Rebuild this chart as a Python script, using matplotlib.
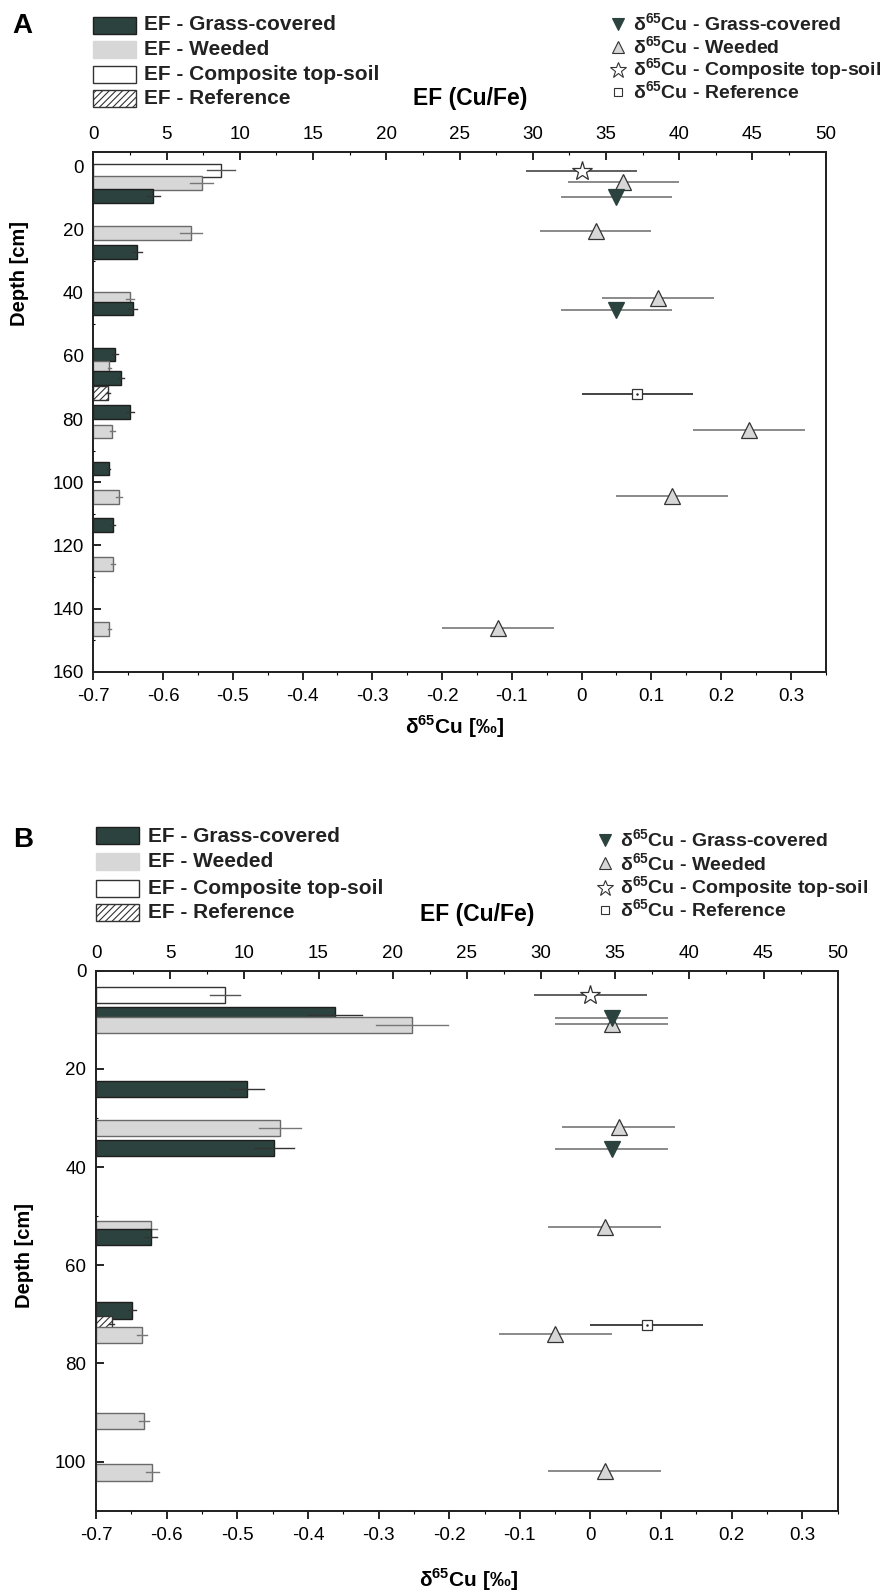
import matplotlib.pyplot as plt
from matplotlib.patches import Rectangle
from matplotlib.lines import Line2D
from matplotlib.ticker import MultipleLocator, FuncFormatter

plt.rcParams['font.family'] = ['Liberation Sans', 'DejaVu Sans']
plt.rcParams['mathtext.fontset'] = 'custom'
plt.rcParams['mathtext.rm'] = 'Liberation Sans'
plt.rcParams['mathtext.bf'] = 'Liberation Sans:bold'
plt.rcParams['hatch.linewidth'] = 0.8

W, H = 890, 1591
DARK = '#2c423e'
GREY = '#d7d7d7'

# --- Panel A: EF (Cu/Fe) bars (depth, value, error) ---
a_ef_grass_depth = [9.3, 27.1, 45.0, 59.5, 66.9, 77.8, 95.7, 113.5]
a_ef_grass = [4.1, 3.0, 2.7, 1.5, 1.9, 2.5, 1.05, 1.35]
a_ef_grass_err = [0.45, 0.35, 0.3, 0.2, 0.2, 0.3, 0.1, 0.15]
a_ef_weed_depth = [5.2, 21.1, 42.0, 63.8, 83.9, 104.7, 125.8, 146.4]
a_ef_weed = [7.4, 6.7, 2.5, 1.1, 1.3, 1.75, 1.35, 1.1]
a_ef_weed_err = [0.8, 0.75, 0.3, 0.1, 0.15, 0.2, 0.15, 0.1]
a_ef_comp_depth = [1.2]
a_ef_comp = [8.7]
a_ef_comp_err = [0.95]
a_ef_ref_depth = [71.8]
a_ef_ref = [1.0]
a_ef_ref_err = [0.15]

# --- Panel A: d65Cu ---
a_cu_grass_depth = [9.5, 45.5]
a_cu_grass = [0.05, 0.05]
a_cu_weed_depth = [5.0, 20.5, 41.6, 83.4, 104.4, 146.1]
a_cu_weed = [0.06, 0.02, 0.11, 0.24, 0.13, -0.12]
a_cu_comp_depth = [1.3]
a_cu_comp = [0.0]
a_cu_ref_depth = [71.9]
a_cu_ref = [0.08]

# --- Panel B: EF (Cu/Fe) bars ---
b_ef_grass_depth = [9.0, 24.1, 36.1, 54.2, 69.2]
b_ef_grass = [16.1, 10.2, 12.0, 3.7, 2.45]
b_ef_grass_err = [1.8, 1.15, 1.35, 0.4, 0.28]
b_ef_weed_depth = [11.1, 32.0, 52.7, 74.2, 91.7, 102.2]
b_ef_weed = [21.3, 12.4, 3.7, 3.1, 3.25, 3.8]
b_ef_weed_err = [2.4, 1.4, 0.4, 0.35, 0.35, 0.45]
b_ef_comp_depth = [5.0]
b_ef_comp = [8.7]
b_ef_comp_err = [1.0]
b_ef_ref_depth = [72.0]
b_ef_ref = [1.05]
b_ef_ref_err = [0.15]

# --- Panel B: d65Cu ---
b_cu_grass_depth = [9.6, 36.4]
b_cu_grass = [0.03, 0.03]
b_cu_weed_depth = [10.9, 31.8, 52.2, 74.0, 102.0]
b_cu_weed = [0.03, 0.04, 0.02, -0.05, 0.02]
b_cu_comp_depth = [5.0]
b_cu_comp = [0.0]
b_cu_ref_depth = [72.2]
b_cu_ref = [0.08]

CU_ERR = 0.08

BAR_STYLE = {
    'grass': dict(facecolor=DARK, edgecolor='#1e1e1e', hatch=None, ecol='#333333'),
    'weed': dict(facecolor=GREY, edgecolor='#6a6a6a', hatch=None, ecol='#777777'),
    'comp': dict(facecolor='white', edgecolor='#333333', hatch=None, ecol='#555555'),
    'ref': dict(facecolor='white', edgecolor='#333333', hatch='/////', ecol='#333333'),
}
MARK_STYLE = {
    'grass': dict(marker='v', ms=11, mfc=DARK, mec=DARK, ecol='#777777'),
    'weed': dict(marker='^', ms=11, mfc=GREY, mec='#333333', ecol='#777777'),
    'comp': dict(marker='*', ms=15, mfc='white', mec='#333333', ecol='#444444'),
    'ref': dict(marker='s', ms=7, mfc='white', mec='#333333', ecol='#222222'),
}


def fx(x):
    return x / W


def fy(y):
    return 1 - y / H


fmt = FuncFormatter(lambda v, p: '%g' % round(v, 2))


def draw_panel(rect, ylim, ymajor, bar_h, ef, cu, tick_fs):
    ax = fig.add_axes(rect)
    ax.set_xlim(-0.7, 0.35)
    ax.set_ylim(*ylim)
    axt = ax.twiny()
    axt.set_xlim(0, 50)

    for key, (dep, val, err) in ef.items():
        st = BAR_STYLE[key]
        for d, v, e in zip(dep, val, err):
            z = 2 + d / 1000
            axt.barh(d, v, height=bar_h, left=0, facecolor=st['facecolor'],
                     edgecolor=st['edgecolor'], hatch=st['hatch'], lw=1.0, zorder=z)
            axt.plot([v - e, v + e], [d, d], color=st['ecol'], lw=1.0, zorder=z + 0.0005)

    for key, (dep, val) in cu.items():
        st = MARK_STYLE[key]
        ax.errorbar(val, dep, xerr=CU_ERR, fmt=st['marker'], ms=st['ms'],
                    mfc=st['mfc'], mec=st['mec'], mew=0.9, ecolor=st['ecol'],
                    elinewidth=1.2, capsize=0, zorder=3)
        if key == 'ref':
            ax.plot(val, dep, ls='none', marker='.', ms=1.5, color='#222222', zorder=4)

    ax.xaxis.set_major_locator(MultipleLocator(0.1))
    ax.xaxis.set_minor_locator(MultipleLocator(0.05))
    ax.xaxis.set_major_formatter(fmt)
    ax.yaxis.set_major_locator(MultipleLocator(ymajor))
    ax.yaxis.set_minor_locator(MultipleLocator(ymajor / 2))
    ax.tick_params(axis='x', which='major', direction='out', length=6, width=1.2,
                   labelsize=tick_fs, pad=6, top=False)
    ax.tick_params(axis='x', which='minor', direction='out', length=2.5, width=0.8, top=False)
    ax.tick_params(axis='y', which='major', direction='in', length=6, width=1.2,
                   labelsize=tick_fs, pad=7, right=False)
    ax.tick_params(axis='y', which='minor', direction='in', length=1.5, width=0.8, right=False)

    axt.xaxis.set_major_locator(MultipleLocator(5))
    axt.xaxis.set_minor_locator(MultipleLocator(2.5))
    axt.xaxis.set_major_formatter(fmt)
    axt.tick_params(axis='x', which='major', direction='in', length=6, width=1.2,
                    labelsize=tick_fs, pad=6)
    axt.tick_params(axis='x', which='minor', direction='in', length=2.5, width=0.8)
    for a in (ax, axt):
        for s in a.spines.values():
            s.set_linewidth(1.3)
            s.set_color('#222222')
    return ax, axt


def draw_legends(left_x, left_text_x, left_rows, right_x, right_text_x, right_rows):
    labels = ['Grass-covered', 'Weeded', 'Composite top-soil', 'Reference']
    keys = ['grass', 'weed', 'comp', 'ref']
    for key, lab, yc in zip(keys, labels, left_rows):
        st = BAR_STYLE[key]
        fig.add_artist(Rectangle((fx(left_x), fy(yc + 8.5)), 43 / W, 17 / H,
                                 transform=fig.transFigure, facecolor=st['facecolor'],
                                 edgecolor=st['edgecolor'] if key != 'weed' else GREY,
                                 hatch=st['hatch'], lw=1.0))
        fig.text(fx(left_text_x), fy(yc), 'EF - ' + lab, fontsize=15,
                 fontweight='bold', va='center', ha='left', color='#222222')
    for key, lab, yc in zip(keys, labels, right_rows):
        st = MARK_STYLE[key]
        ms = {'grass': 9, 'weed': 9, 'comp': 12, 'ref': 6}[key]
        fig.add_artist(Line2D([fx(right_x)], [fy(yc)], transform=fig.transFigure,
                              marker=st['marker'], ms=ms, mfc=st['mfc'], mec=st['mec'],
                              mew=0.8, ls='none'))
        fig.text(fx(right_text_x), fy(yc), r'δ$^{\mathbf{65}}$Cu - ' + lab, fontsize=14,
                 fontweight='bold', va='center', ha='left', color='#222222')


fig = plt.figure(figsize=(W / 100, H / 100), dpi=100)

# Panel A
draw_panel([fx(93.3), fy(671.7), 732.4 / W, 520 / H], (160, -4.7), 20, 4.3,
           {'comp': (a_ef_comp_depth, a_ef_comp, a_ef_comp_err),
            'weed': (a_ef_weed_depth, a_ef_weed, a_ef_weed_err),
            'grass': (a_ef_grass_depth, a_ef_grass, a_ef_grass_err),
            'ref': (a_ef_ref_depth, a_ef_ref, a_ef_ref_err)},
           {'comp': (a_cu_comp_depth, a_cu_comp),
            'weed': (a_cu_weed_depth, a_cu_weed),
            'grass': (a_cu_grass_depth, a_cu_grass),
            'ref': (a_cu_ref_depth, a_cu_ref)}, 13.5)
draw_legends(93, 144, [25, 49.5, 74, 98.5], 618, 633, [24, 47, 70, 92])
fig.text(fx(22), fy(26), 'A', fontsize=20, fontweight='bold', ha='center', va='center')
fig.text(fx(470), fy(98), 'EF (Cu/Fe)', fontsize=16.5, fontweight='bold', ha='center', va='center')
fig.text(fx(20), fy(273), 'Depth [cm]', fontsize=14.5, fontweight='bold', ha='center',
         va='center', rotation=90)
fig.text(fx(455), fy(727), r'δ$^{\mathbf{65}}$Cu [‰]', fontsize=15, fontweight='bold',
         ha='center', va='center')

# Panel B
draw_panel([fx(96), fy(1510.7), 741.7 / W, 540 / H], (110, 0), 20, 3.3,
           {'comp': (b_ef_comp_depth, b_ef_comp, b_ef_comp_err),
            'weed': (b_ef_weed_depth, b_ef_weed, b_ef_weed_err),
            'grass': (b_ef_grass_depth, b_ef_grass, b_ef_grass_err),
            'ref': (b_ef_ref_depth, b_ef_ref, b_ef_ref_err)},
           {'comp': (b_cu_comp_depth, b_cu_comp),
            'weed': (b_cu_weed_depth, b_cu_weed),
            'grass': (b_cu_grass_depth, b_cu_grass),
            'ref': (b_cu_ref_depth, b_cu_ref)}, 13.5)
draw_legends(96, 148, [836, 861.7, 888, 912.7], 605, 620, [840, 863.5, 888, 910])
fig.text(fx(23), fy(840), 'B', fontsize=20, fontweight='bold', ha='center', va='center')
fig.text(fx(477), fy(915), 'EF (Cu/Fe)', fontsize=16.5, fontweight='bold', ha='center', va='center')
fig.text(fx(25), fy(1255), 'Depth [cm]', fontsize=14.5, fontweight='bold', ha='center',
         va='center', rotation=90)
fig.text(fx(469), fy(1580), r'δ$^{\mathbf{65}}$Cu [‰]', fontsize=15, fontweight='bold',
         ha='center', va='center')

fig.savefig('out.png', dpi=100)
